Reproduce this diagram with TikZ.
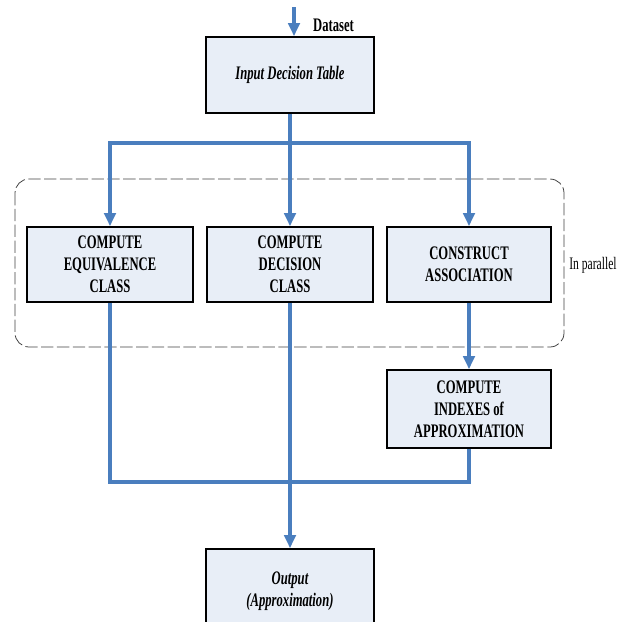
\documentclass[tikz,border=0pt]{standalone}
\usepackage{fontspec}
\setmainfont{Liberation Serif}[FakeStretch=0.66]
\usetikzlibrary{positioning, arrows.meta, calc}
\definecolor{flowblue}{RGB}{74,126,190}
\definecolor{boxfill}{RGB}{232,238,247}
\tikzset{
  block/.style={
    draw,
    rectangle,
    line width=0.9pt,
    minimum width=3.32cm,
    minimum height=1.5cm,
    align=center,
    fill=boxfill,
    font=\bfseries\fontsize{10.9}{12.5}\selectfont
  },
  flow/.style={
    draw=flowblue,
    line width=2pt,
    -{Triangle[width=6.5pt,length=7.5pt]}
  },
  link/.style={
    draw=flowblue,
    line width=2pt
  },
  group/.style={
    draw=black!75,
    line width=0.45pt,
    dash pattern=on 7pt off 2pt,
    rounded corners=8pt
  }
}

\begin{document}
\begin{tikzpicture}
        \useasboundingbox (0,0) rectangle (12.38,-12.44);
        \node[block, font=\bfseries\itshape\fontsize{10.9}{12.5}\selectfont, minimum width=3.36cm, minimum height=1.52cm] (input) at (5.8,-1.5) {Input Decision Table};
        \coordinate (data) at (5.88,-0.14);
        \node[anchor=west, font=\bfseries\fontsize{10.9}{12.5}\selectfont] (dataset) at (6.14,-0.5) {Dataset};

        \node[block] (equiv) at (2.2,-5.29) {COMPUTE\\EQUIVALENCE\\CLASS};
        \node[block] (decis) at (5.8,-5.29) {COMPUTE\\DECISION\\CLASS};
        \node[block, minimum width=3.28cm] (assoc) at (9.38,-5.29) {CONSTRUCT\\ASSOCIATION};
        \node[block, minimum width=3.28cm, minimum height=1.56cm] (index) at (9.38,-8.18) {COMPUTE\\INDEXES of\\APPROXIMATION};
        \node[block, font=\bfseries\itshape\fontsize{10.9}{12.5}\selectfont, minimum width=3.36cm, minimum height=1.7cm] (output) at (5.8,-11.83) {Output\\(Approximation)};

        % parallel part
        \draw[group] (0.3,-3.58) rectangle (11.28,-6.94);
        \node[anchor=west, inner sep=0pt, font=\fontsize{10}{12}\selectfont] (par) at (11.38,-5.3) {In parallel};

        \coordinate (split) at (5.8,-2.86);
        \coordinate (join) at (5.8,-9.64);

        \draw[flow] (data) -- (data |- input.north);
        \draw[flow] (input.south) -- (decis.north);
        \draw[flow] (split) -| (equiv.north);
        \draw[flow] (split) -| (assoc.north);
        \draw[flow] (assoc.south) -- (index.north);
        \draw[link] (equiv.south) |- (join);
        \draw[link] (index.south) |- (join);
        \draw[flow] (decis.south) -- (output.north);
      \end{tikzpicture}
\end{document}
